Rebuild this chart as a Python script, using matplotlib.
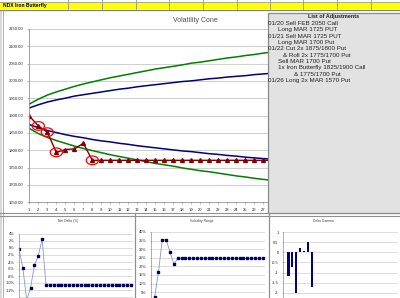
import matplotlib
matplotlib.use("Agg")
import matplotlib.pyplot as plt
from matplotlib.patches import Rectangle, Ellipse
from matplotlib.ticker import FuncFormatter
import numpy as np

plt.rcParams['font.family'] = ['Liberation Sans', 'DejaVu Sans']

# ---- data ----
days = list(range(1, 29))
green_upper = [1933, 1947, 1959, 1968, 1976, 1984, 1991, 1997, 2003, 2009, 2014, 2019, 2024, 2029,
               2034, 2038, 2042, 2046, 2051, 2054, 2058, 2062, 2066, 2069, 2073, 2076, 2080, 2083]
green_lower = [1863, 1848, 1837, 1828, 1820, 1812, 1805, 1799, 1793, 1787, 1782, 1777, 1772, 1767,
               1762, 1758, 1754, 1749, 1745, 1741, 1738, 1734, 1730, 1726, 1723, 1719, 1716, 1713]
blue_upper = [1922, 1931, 1939, 1945, 1950, 1956, 1960, 1964, 1968, 1972, 1976, 1979, 1983, 1986,
              1989, 1992, 1995, 1998, 2000, 2003, 2006, 2008, 2011, 2013, 2015, 2018, 2020, 2022]
blue_lower = [1874, 1865, 1857, 1851, 1845, 1840, 1836, 1831, 1827, 1824, 1820, 1817, 1813, 1810,
              1807, 1804, 1801, 1798, 1796, 1793, 1790, 1788, 1785, 1783, 1780, 1778, 1776, 1774]
price = [1899, 1870, 1852, 1794, 1802, 1804, 1820, 1771] + [1771] * 20
circled_days = [2, 3, 4, 8]

adjustments = ["01/20 Sell FEB 2050 Call",
               "Long MAR 1725 PUT",
               "01/21 Sell MAR 1725 PUT",
               "Long MAR 1700 Put",
               "01/22 Cut 2x 1875/1800 Put",
               "& Roll 2x 1775/1700 Put",
               "Sell MAR 1700 Put",
               "1x Iron Butterfly 1825/1900 Call",
               "& 1775/1700 Put",
               "01/26 Long 2x MAR 1570 Put"]
adj_indent = [0, 9.5, 0, 9.5, 0, 14.5, 9.5, 10, 26, 0]

sub_days = list(range(1, 31))
delta_pct = [-0.3, -5.7, -15, -11.3, -4.9, -2.3, 2.6, -10.6] + [-10.6] * 22
vol_pct = [-8, 2, 16.5, 35.5, 35.5, 28.3, 21.4, 24.6] + [24.6] * 22
bar_vals = [0, -1.15, -0.71, -2.02, 0.21, 0.04, 0.5, -1.72] + [0] * 22

W, H = 400, 298
fig = plt.figure(figsize=(W / 100, H / 100), dpi=100)
fig.patch.set_facecolor("white")


def px_axes(left, top, right, bottom, z=1):
    return fig.add_axes([left / W, 1 - bottom / H, (right - left) / W, (bottom - top) / H], zorder=z)


# ---- spreadsheet background ----
bg = px_axes(0, 0, W, H, z=-5)
bg.set_xlim(0, W)
bg.set_ylim(H, 0)
bg.axis("off")
bg.add_patch(Rectangle((0, 2), W, 7.3, facecolor="#ffff00", edgecolor="none"))
for cx in [68, 102, 136, 169, 203, 237, 270, 303, 337, 371]:
    bg.plot([cx, cx], [0, 9.3], color="#909090", lw=0.6)
bg.plot([0, W], [2, 2], color="#a0a0a0", lw=0.6)
bg.plot([0, W], [9.6, 9.6], color="#808080", lw=0.9)
bg.text(3, 5.8, "NDX Iron Butterfly", fontsize=3.6, fontweight="bold", va="center", ha="left")
bg.add_patch(Rectangle((0, 10), 2.2, H, facecolor="#d8d8d8", edgecolor="none"))
bg.plot([2.8, 2.8], [10, H], color="#a0a0a0", lw=0.6)
bg.plot([0, 268], [213.3, 213.3], color="#909090", lw=0.8)
bg.plot([0, W], [216, 216], color="#909090", lw=0.8)
bg.plot([134.5, 134.5], [213.3, H], color="#909090", lw=0.9)
bg.plot([268.5, 268.5], [213.3, H], color="#909090", lw=0.9)
bg.text(195, 20, "Volatility Cone", fontsize=5, color="#505050", ha="center", va="center")
bg.text(68, 220.7, "Net Delta (%)", fontsize=2.4, color="#404040", ha="center", va="center")
bg.text(201.7, 220.7, "Volatility Range", fontsize=2.4, color="#404040", ha="center", va="center")
bg.text(323.3, 220.7, "Delta Gamma", fontsize=2.4, color="#404040", ha="center", va="center")

# ---- main cone chart ----
ax = px_axes(29.3, 28.8, 268, 202.3, z=1)
ax.plot(days, green_upper, color="#008000", lw=1.1)
ax.plot(days, green_lower, color="#008000", lw=1.1)
ax.plot(days, blue_upper, color="#000080", lw=1.1)
ax.plot(days, blue_lower, color="#000080", lw=1.1)
ax.plot(days, price, color="#800000", lw=1.0, marker="^", markersize=2.8,
        markerfacecolor="#800000", markeredgecolor="#800000")
for d in circled_days:
    ax.add_patch(Ellipse((d, price[d - 1]), width=1.35, height=25, fill=False,
                         edgecolor="#ff0000", lw=0.9, zorder=5))
ax.set_xlim(1, 27.5)
ax.set_ylim(1650, 2150)
ax.set_xticks(days[:27])
ax.set_yticks(np.arange(1650, 2151, 50))
ax.yaxis.set_major_formatter(FuncFormatter(lambda v, p: "%.2f" % v))
ax.grid(axis="y", color="#c8c8c8", lw=0.6)
ax.set_axisbelow(True)
ax.tick_params(labelsize=3, length=1.5, width=0.4, color="#808080", pad=2.5, labelcolor="#202020")
for s in ["top", "right"]:
    ax.spines[s].set_visible(False)
for s in ["left", "bottom"]:
    ax.spines[s].set_color("#909090")
    ax.spines[s].set_linewidth(0.6)


def style_small(a, lo, hi, step):
    # gridlines for the full range, labels only where the sheet shows them
    full = np.arange(a.get_ylim()[0], hi + step / 2, step)
    a.set_yticks(full, minor=True)
    a.set_yticks(np.arange(lo, hi + step / 2, step))
    a.grid(axis="y", which="both", color="#d0d0d0", lw=0.5)
    a.set_axisbelow(True)
    a.tick_params(labelsize=2.8, length=1, width=0.4, color="#808080", pad=2, labelcolor="#202020")
    a.tick_params(which="minor", length=0)
    a.set_xticks([])
    for s in ["top", "right", "bottom"]:
        a.spines[s].set_visible(False)
    a.spines["left"].set_color("#909090")
    a.spines["left"].set_linewidth(0.5)


# ---- bottom left: delta ----
a1 = px_axes(19, 234, 132.9, 318, z=1)
a1.plot(sub_days, delta_pct, color="#8898c8", lw=0.6, marker="s", markersize=1.6,
        markerfacecolor="#000060", markeredgecolor="#000060")
a1.set_xlim(1, 30.5)
a1.set_ylim(-20, 4)
style_small(a1, -12, 4, 2)
a1.yaxis.set_major_formatter(FuncFormatter(lambda v, p: "%d%%" % round(v)))

# ---- bottom middle: volatility ----
a2 = px_axes(150.7, 232, 264.6, 318, z=1)
a2.plot(sub_days, vol_pct, color="#8898c8", lw=0.6, marker="s", markersize=1.6,
        markerfacecolor="#000060", markeredgecolor="#000060")
a2.set_xlim(1, 30.5)
a2.set_ylim(-10, 40)
style_small(a2, 5, 40, 5)
a2.yaxis.set_major_formatter(FuncFormatter(lambda v, p: "%d%%" % round(v)))

# ---- bottom right: bars ----
a3 = px_axes(282.7, 232, 398.2, 323.4, z=1)
a3.bar(sub_days, bar_vals, width=0.55, color="#000080", edgecolor="none")
a3.set_xlim(0.5, 30.5)
a3.set_ylim(-3.5, 1)
style_small(a3, -2, 1, 0.5)
a3.yaxis.set_major_formatter(FuncFormatter(lambda v, p: "%g" % v))

# ---- adjustments box over the chart ----
ov = px_axes(0, 0, W, H, z=10)
ov.set_xlim(0, W)
ov.set_ylim(H, 0)
ov.axis("off")
ov.patch.set_alpha(0)
ov.add_patch(Rectangle((268.3, 13.3), 135, 199.4, facecolor="#e2e2e2", edgecolor="#8a8a8a", lw=0.9))
ov.text(333.3, 16.6, "List of Adjustments", fontsize=4.0, fontweight="bold", color="#202020",
        ha="center", va="center")
for i, (line, ind) in enumerate(zip(adjustments, adj_indent)):
    ov.text(268.3 + ind, 23.3 + i * 6.38, line, fontsize=4.5, color="#202020",
            ha="left", va="center")

fig.savefig("out.png", dpi=100)
